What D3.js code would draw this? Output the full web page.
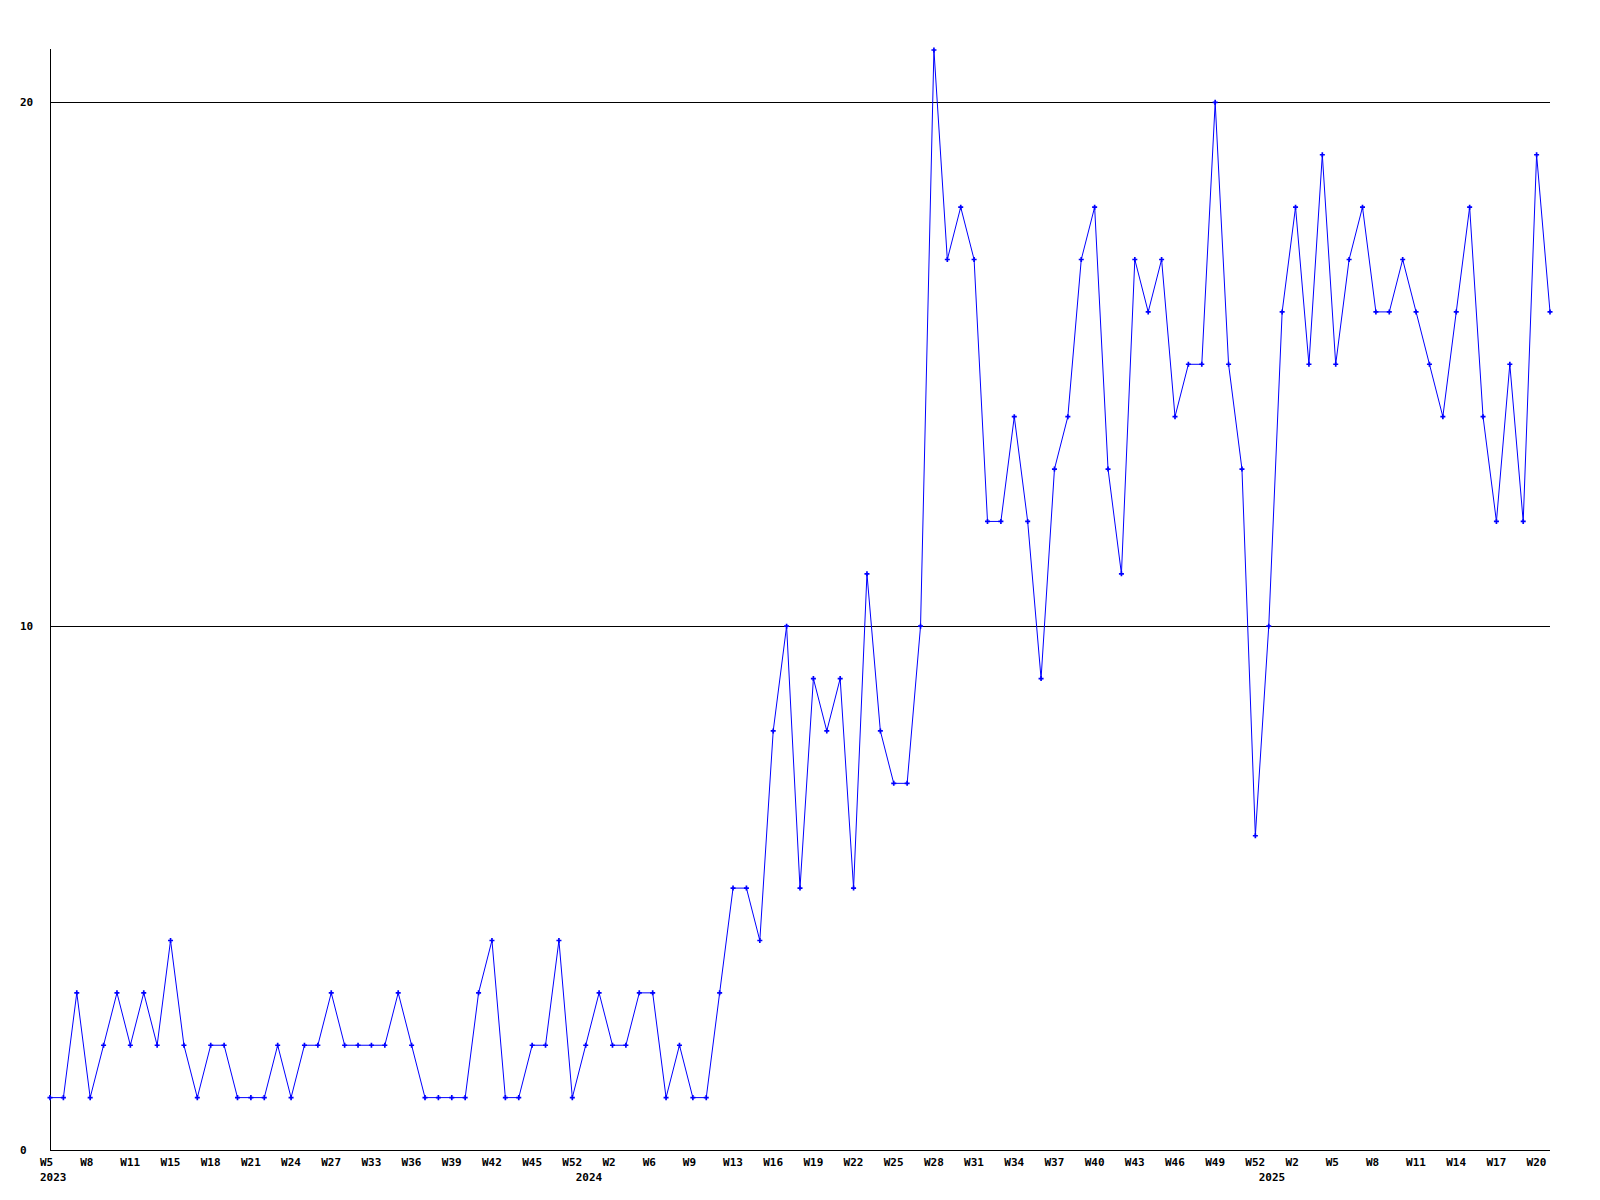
<!DOCTYPE html>
<html>
<head>
<meta charset="utf-8">
<script src="https://cdn.jsdelivr.net/npm/d3@7"></script>
<style>
  html, body { margin: 0; padding: 0; background: #ffffff; }
  svg { display: block; }
  text { font-family: "DejaVu Sans Mono", "Liberation Mono", monospace; font-weight: bold; font-size: 11px; fill: #000; }
</style>
</head>
<body>
<svg id="chart" width="1600" height="1200"></svg>
<script>
// Weekly values, one per point (113 points, 2023 W5 .. 2025 W21)
const values = [
  1, 1, 3, 1, 2, 3, 2, 3, 2, 4,
  2, 1, 2, 2, 1, 1, 1, 2, 1, 2,
  2, 3, 2, 2, 2, 2, 3, 2, 1, 1,
  1, 1, 3, 4, 1, 1, 2, 2, 4, 1,
  2, 3, 2, 2, 3, 3, 1, 2, 1, 1,
  3, 5, 5, 4, 8, 10, 5, 9, 8, 9,
  5, 11, 8, 7, 7, 10, 21, 17, 18, 17,
  12, 12, 14, 12, 9, 13, 14, 17, 18, 13,
  11, 17, 16, 17, 14, 15, 15, 20, 15, 13,
  6, 10, 16, 18, 15, 19, 15, 17, 18, 16,
  16, 17, 16, 15, 14, 16, 18, 14, 12, 15,
  12, 19, 16
];

// Week tick labels: shown on every third point
const tickIndex = [0, 3, 6, 9, 12, 15, 18, 21, 24, 27, 30, 33, 36, 39, 42, 45, 48, 51, 54, 57,
                   60, 63, 66, 69, 72, 75, 78, 81, 84, 87, 90, 93, 96, 99, 102, 105, 108, 111];
const tickLabels = ["W5", "W8", "W11", "W15", "W18", "W21", "W24", "W27", "W33", "W36",
                    "W39", "W42", "W45", "W52", "W2", "W6", "W9", "W13", "W16", "W19",
                    "W22", "W25", "W28", "W31", "W34", "W37", "W40", "W43", "W46", "W49",
                    "W52", "W2", "W5", "W8", "W11", "W14", "W17", "W20"];

// Year labels and the point where each year starts
const yearIndex = [0, 40, 91];
const yearLabels = ["2023", "2024", "2025"];

// Y axis ticks
const yTicks = [0, 10, 20];

const svg = d3.select("#chart");
const x = d3.scaleLinear().domain([0, values.length - 1]).range([50, 1550]);
const y = d3.scaleLinear().domain([0, 21]).range([1150, 50]);

// Horizontal gridlines (non-zero ticks)
svg.append("g")
  .selectAll("line")
  .data(yTicks.filter(d => d !== 0))
  .join("line")
  .attr("x1", x.range()[0]).attr("x2", x.range()[1])
  .attr("y1", d => Math.round(y(d)) + 0.5).attr("y2", d => Math.round(y(d)) + 0.5)
  .attr("stroke", "#000").attr("stroke-width", 1);

// Axes lines
svg.append("line")
  .attr("x1", 50.5).attr("x2", 50.5).attr("y1", 49).attr("y2", 1150.5)
  .attr("stroke", "#000").attr("stroke-width", 1);
svg.append("line")
  .attr("x1", 50).attr("x2", 1550).attr("y1", 1150.5).attr("y2", 1150.5)
  .attr("stroke", "#000").attr("stroke-width", 1);

// Y labels
svg.append("g")
  .selectAll("text")
  .data(yTicks)
  .join("text")
  .attr("x", 20)
  .attr("y", d => Math.round(y(d)) + 4)
  .text(d => d);

// X week labels
svg.append("g")
  .selectAll("text")
  .data(tickIndex)
  .join("text")
  .attr("x", d => x(d) - 10)
  .attr("y", 1166)
  .text((d, i) => tickLabels[i]);

// Year labels
svg.append("g")
  .selectAll("text")
  .data(yearIndex)
  .join("text")
  .attr("x", d => x(d) - 10)
  .attr("y", 1181)
  .text((d, i) => yearLabels[i]);

// Line
const line = d3.line().x((d, i) => x(i)).y(d => y(d));
svg.append("path")
  .datum(values)
  .attr("d", line)
  .attr("fill", "none")
  .attr("stroke", "#0000ff")
  .attr("stroke-width", 1);

// Markers
const sym = d3.symbol().type(d3.symbolCross).size(14);
svg.append("g")
  .selectAll("path")
  .data(values)
  .join("path")
  .attr("transform", (d, i) => `translate(${x(i)},${y(d)})`)
  .attr("d", sym)
  .attr("fill", "#0000ff");
</script>
</body>
</html>
